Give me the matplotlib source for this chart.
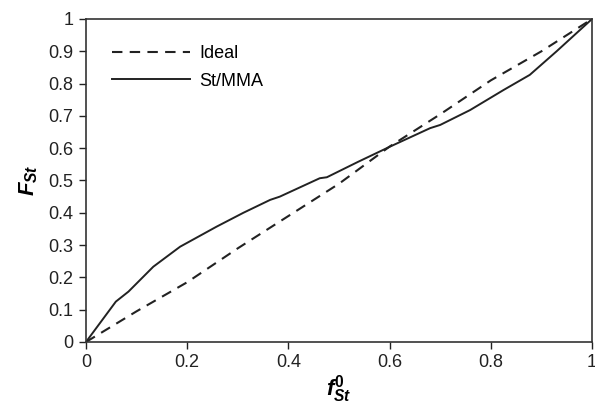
import matplotlib
matplotlib.use("Agg")
import matplotlib.pyplot as plt

plt.rcParams["font.family"] = ["Liberation Sans", "DejaVu Sans"]
plt.rcParams["mathtext.fontset"] = "custom"
plt.rcParams["mathtext.it"] = "Liberation Sans:bold:italic"
plt.rcParams["mathtext.rm"] = "Liberation Sans:bold"
plt.rcParams["mathtext.bf"] = "Liberation Sans:bold"

# ideal curve
ideal_x = [0.0, 0.1, 0.2, 0.3, 0.4, 0.5, 0.6, 0.7, 0.8, 0.9, 1.0]
ideal_y = [0.0, 0.095, 0.185, 0.29, 0.39, 0.49, 0.605, 0.705, 0.81, 0.9, 1.0]

# St/MMA
st_x = [0.0, 0.059, 0.084, 0.133, 0.186, 0.258, 0.311, 0.364, 0.383, 0.462, 0.476,
        0.538, 0.601, 0.68, 0.70, 0.759, 0.825, 0.877, 0.93, 1.0]
st_y = [0.0, 0.125, 0.156, 0.233, 0.295, 0.357, 0.40, 0.44, 0.45, 0.507, 0.51,
        0.558, 0.605, 0.662, 0.672, 0.718, 0.78, 0.827, 0.90, 1.0]

xticks = [0, 0.2, 0.4, 0.6, 0.8, 1]
yticks = [0, 0.1, 0.2, 0.3, 0.4, 0.5, 0.6, 0.7, 0.8, 0.9, 1]

fig = plt.figure(figsize=(5.95, 4.05), dpi=100)
ax = fig.add_axes([0.1445, 0.1556, 0.8505, 0.7975])

ax.plot(ideal_x, ideal_y, color="#222222", lw=1.5, dashes=(5, 3.5), label="Ideal")
ax.plot(st_x, st_y, color="#222222", lw=1.4, label="St/MMA")

ax.set_xlim(0, 1)
ax.set_ylim(0, 1)
ax.set_xticks(xticks)
ax.set_xticklabels([f"{t:g}" for t in xticks])
ax.set_yticks(yticks)
ax.set_yticklabels([f"{t:g}" for t in yticks])
ax.tick_params(direction="out", length=5, width=1, labelsize=13, colors="#222222", pad=4)
for s in ax.spines.values():
    s.set_linewidth(1.2)
    s.set_color("#333333")

ax.set_xlabel(r"$f^{0}_{St}$", fontsize=16, labelpad=1)
ax.set_ylabel(r"$F_{St}$", fontsize=16, labelpad=6)

ax.legend(loc="upper left", bbox_to_anchor=(0.02, 0.97), frameon=False,
          fontsize=13, handlelength=4.3, handletextpad=0.5, labelspacing=0.6)

fig.savefig("out.png", dpi=100)
